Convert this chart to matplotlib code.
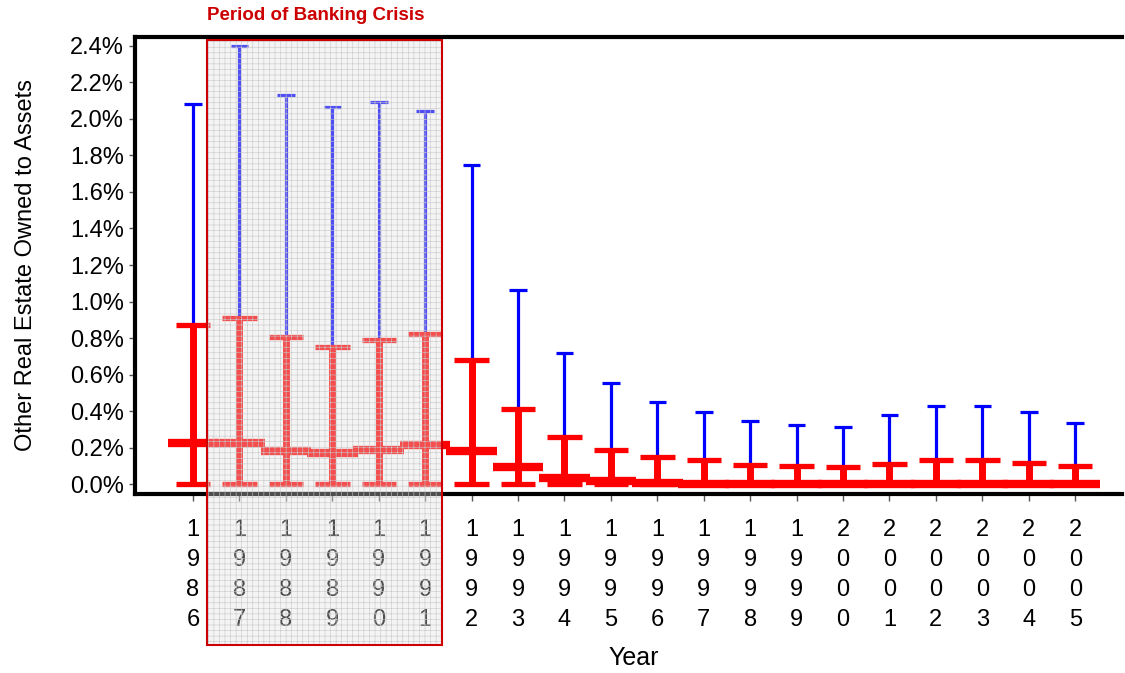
import matplotlib.pyplot as plt
from matplotlib.patches import Rectangle
from matplotlib.ticker import FuncFormatter
import matplotlib.transforms as mtransforms

plt.rcParams['font.family'] = ['Liberation Sans', 'DejaVu Sans']
plt.rcParams['hatch.linewidth'] = 0.4

# values, in percent
years = [1986, 1987, 1988, 1989, 1990, 1991, 1992, 1993, 1994, 1995,
         1996, 1997, 1998, 1999, 2000, 2001, 2002, 2003, 2004, 2005]
low = [0.0] * 20
median = [0.226, 0.226, 0.183, 0.172, 0.186, 0.214, 0.183, 0.095, 0.035, 0.018,
          0.006, 0.0, 0.0, 0.0, 0.0, 0.0, 0.0, 0.0, 0.0, 0.0]
upper_q = [0.873, 0.908, 0.805, 0.752, 0.789, 0.824, 0.683, 0.413, 0.259, 0.188,
           0.150, 0.135, 0.106, 0.100, 0.095, 0.113, 0.135, 0.135, 0.119, 0.100]
upper_tail = [2.08, 2.40, 2.13, 2.064, 2.09, 2.044, 1.746, 1.061, 0.716, 0.552,
              0.453, 0.398, 0.344, 0.327, 0.316, 0.382, 0.426, 0.426, 0.398, 0.338]
crisis_years = [1987, 1991]
yticks = [0.0, 0.2, 0.4, 0.6, 0.8, 1.0, 1.2, 1.4, 1.6, 1.8, 2.0, 2.2, 2.4]

red = '#ff0000'
blue = '#0000ff'

fig = plt.figure(figsize=(11.25, 6.73), dpi=100)
ax = fig.add_axes([0.12, 0.266, 0.877, 0.679])

x = list(range(len(years)))

# blue whisker above the red box
ax.vlines(x, upper_q, upper_tail, color=blue, lw=2.3, zorder=2)
ax.hlines(upper_tail, [i - 0.19 for i in x], [i + 0.19 for i in x], color=blue, lw=2.3, zorder=2)

# red range with caps
ax.vlines(x, low, upper_q, color=red, lw=5, zorder=3)
ax.hlines(upper_q, [i - 0.37 for i in x], [i + 0.37 for i in x], color=red, lw=3.8, zorder=3)
ax.hlines(low, [i - 0.37 for i in x], [i + 0.37 for i in x], color=red, lw=3.8, zorder=3)
# median bar
ax.hlines(median, [i - 0.545 for i in x], [i + 0.545 for i in x], color=red, lw=6, zorder=3)

ax.set_xlim(-1.25, 20.0)
ax.set_ylim(-0.053, 2.448)
ax.set_yticks(yticks)
ax.yaxis.set_major_formatter(FuncFormatter(lambda v, p: '%.1f%%' % v))
ax.set_xticks(x)
ax.set_xticklabels(['\n'.join(str(y)) for y in years], linespacing=1.48)
ax.tick_params(axis='x', length=5, width=1, color='#555555', pad=13, labelsize=17)
ax.tick_params(axis='y', length=4, width=1, color='#555555', pad=4, labelsize=17)

for side in ['left', 'bottom', 'top']:
    ax.spines[side].set_linewidth(3)
    ax.spines[side].set_color('black')
ax.spines['right'].set_visible(False)

ax.set_ylabel('Other Real Estate Owned to Assets', fontsize=17)
ax.yaxis.set_label_coords(-0.099, 0.5)
ax.set_xlabel('Year', fontsize=18)
ax.xaxis.set_label_coords(0.505, -0.333)

# shaded crisis period, overlaid on bars and tick labels
i0 = years.index(crisis_years[0])
i1 = years.index(crisis_years[1])
trans = mtransforms.blended_transform_factory(ax.transData, ax.transAxes)
shade = Rectangle((i0 - 0.7, -0.33), (i1 + 0.37) - (i0 - 0.7), 1.323, transform=trans,
                  facecolor=(0.88, 0.88, 0.88, 0.35), edgecolor='#c8c8c8', hatch='+++',
                  lw=0, clip_on=False, zorder=5)
ax.add_patch(shade)
border = Rectangle((i0 - 0.7, -0.33), (i1 + 0.37) - (i0 - 0.7), 1.323, transform=trans,
                   facecolor='none', edgecolor='#cc0000', lw=1.5, clip_on=False, zorder=6)
ax.add_patch(border)
ax.text(i0 - 0.7, 1.047, 'Period of Banking Crisis', transform=trans, color='#cc0000',
        fontsize=13.5, fontweight='bold', ha='left', va='center')

plt.savefig('out.png', dpi=100)
